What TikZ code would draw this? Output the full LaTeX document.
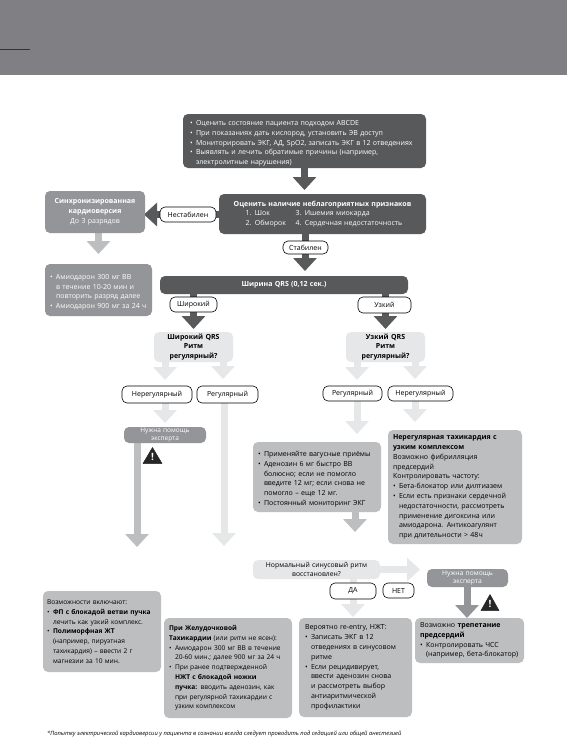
\documentclass[tikz,border=0pt]{standalone}
\usepackage{fontspec}
\setmainfont{Open Sans}
\usetikzlibrary{arrows.meta}
\definecolor{cdark}{HTML}{58595B}
\definecolor{cmid}{HTML}{939598}
\definecolor{clight}{HTML}{BCBEC0}
\definecolor{cpale}{HTML}{E6E7E8}
\definecolor{cband}{HTML}{807F83}
\newcommand{\bl}{\par\hangindent=6pt\hangafter=1\noindent\makebox[6pt][l]{•}}
\newcommand{\nl}{\hfil\break}
\pgfdeclarelayer{bgl}
\pgfsetlayers{bgl,main}
\tikzset{
  x=1pt,y=-1pt,
  bx/.style={anchor=north west,rounded corners=5pt,inner sep=0pt,outer sep=0pt,align=left,
    font=\fontsize{7}{9.8}\selectfont},
  darkbx/.style={bx,fill=cdark,text=white},
  midbx/.style={bx,fill=cmid,text=white},
  lightbx/.style={bx,fill=clight,text=black},
  palebx/.style={bx,fill=cpale,text=black},
  pill/.style={anchor=north west,draw=black,line width=0.6pt,fill=white,rounded corners=5pt,inner sep=0pt,outer sep=0pt,align=center,
    font=\fontsize{7}{9}\selectfont},
  fat/.style={line width=7pt,-{Triangle[length=13pt,width=23pt]},shorten >=#1},
  fat/.default=4pt,
  warnsign/.style={fill=black!85,line join=round,draw=black!85,line width=0.5pt},
}
\begin{document}
\begin{tikzpicture}
\useasboundingbox (0,0) rectangle (567,740);
\begin{pgfonlayer}{bgl}
\fill[white] (0,0) rectangle (567,740);
\end{pgfonlayer}
\fill[cband] (0,0) rectangle (567,75);
\draw[black!80,line width=0.8pt] (0,49.5) -- (30,49.5);

% main boxes
\node[darkbx,minimum width=243pt,minimum height=54pt,text width=229pt] (top) at (183,114) {%
\bl Оценить состояние пациента подходом ABCDE
\bl При показаниях дать кислород, установить ЭВ доступ
\bl Мониторировать ЭКГ, АД, SpO2, записать ЭКГ в 12 отведениях
\bl Выявлять и лечить обратимые причины (например,\nl электролитные нарушения)\par};

\node[darkbx,minimum width=207pt,minimum height=40pt,text width=207pt,align=center,font=\fontsize{7}{9.6}\selectfont] (eval) at (219,194) {%
\textbf{Оценить наличие неблагоприятных признаков}\\
\makebox[50pt][l]{1. Шок}\makebox[104pt][l]{3. Ишемия миокарда}\\
\makebox[50pt][l]{2. Обморок}\makebox[104pt][l]{4. Сердечная недостаточность}};

\node[midbx,minimum width=100pt,minimum height=42pt,text width=100pt,align=center,font=\fontsize{7}{10}\selectfont] (sync) at (45,191) {%
\textbf{Синхронизированная}\\\textbf{кардиоверсия}\\До 3 разрядов};

\node[midbx,minimum width=107pt,minimum height=52pt,text width=97pt] (amio) at (45,264) {%
\bl Амиодарон 300 мг ВВ\nl в течение 10-20 мин и\nl повторить разряд далее
\bl Амиодарон 900 мг за 24 ч\par};

\node[darkbx,minimum width=248pt,minimum height=18pt,text width=248pt,align=center] (qrs) at (160,276) {\textbf{Ширина QRS (0,12 сек.)}};

\node[palebx,minimum width=79pt,minimum height=30pt,text width=79pt,align=center] (wide) at (154,332) {%
\textbf{Широкий QRS}\\\textbf{Ритм}\\\textbf{регулярный?}};
\node[palebx,minimum width=79pt,minimum height=30pt,text width=79pt,align=center] (narrow) at (346,332) {%
\textbf{Узкий QRS}\\\textbf{Ритм}\\\textbf{регулярный?}};

\node[midbx,minimum width=82pt,minimum height=16pt,text width=82pt,align=center,font=\fontsize{6.5}{7.6}\selectfont] (exp1) at (124,427) {Нужна помощь\\эксперта};
\node[midbx,minimum width=81pt,minimum height=18pt,text width=81pt,align=center,font=\fontsize{6.7}{8.3}\selectfont] (exp2) at (427,569) {Нужна помощь\\эксперта};

\node[lightbx,minimum width=128pt,minimum height=70pt,text width=118pt] (reg) at (253,442) {%
\bl Применяйте вагусные приёмы
\bl Аденозин 6 мг быстро ВВ\nl болюсно; если не помогло\nl введите 12 мг; если снова не\nl помогло – еще 12 мг.
\bl Постоянный мониторинг ЭКГ\par};

\node[lightbx,minimum width=134pt,minimum height=114pt,text width=124pt] (irr) at (388,430) {%
\noindent\textbf{Нерегулярная тахикардия с}\nl \textbf{узким комплексом}\par
\noindent Возможно фибрилляция\nl предсердий\par
\noindent Контролировать частоту:
\bl Бета-блокатор или дилтиазем
\bl Если есть признаки сердечной\nl недостаточности, рассмотреть\nl применение дигоксина или\nl амиодарона. Антикоагулянт\nl при длительности > 48ч\par};

\node[palebx,minimum width=127pt,minimum height=19pt,text width=127pt,align=center,font=\fontsize{6.8}{8.7}\selectfont] (rest) at (253,560) {Нормальный синусовый ритм\\восстановлен?};

\node[lightbx,minimum width=118pt,minimum height=81pt,text width=110pt,font=\fontsize{6.6}{9.8}\selectfont] (bA) at (43,591) {%
\noindent Возможности включают:
\bl \textbf{ФП с блокадой ветви пучка}\nl лечить как узкий комплекс.
\bl \textbf{Полиморфная ЖТ}\nl (например, пируэтная\nl тахикардия) – ввести 2 г\nl магнезии за 10 мин.\par};

\node[lightbx,minimum width=128pt,minimum height=100pt,text width=118pt,font=\fontsize{6.6}{9.8}\selectfont] (bB) at (164,618) {%
\noindent\textbf{При Желудочковой}\nl \textbf{Тахикардии} (или ритм не ясен):
\bl Амиодарон 300 мг ВВ в течение\nl 20-60 мин.; далее 900 мг за 24 ч
\bl При ранее подтвержденной\nl \textbf{НЖТ с блокадой ножки}\nl \textbf{пучка:} вводить аденозин, как\nl при регулярной тахикардии с\nl узким комплексом\par};

\node[lightbx,minimum width=113pt,minimum height=99pt,text width=101pt] (bC) at (299,618) {%
\noindent Вероятно re-entry, НЖТ:
\bl Записать ЭКГ в 12\nl отведениях в синусовом\nl ритме
\bl Если рецидивирует,\nl ввести аденозин снова\nl и рассмотреть выбор\nl антиаритмической\nl профилактики\par};

\node[lightbx,minimum width=109pt,minimum height=45pt,text width=99pt] (bD) at (415,618) {%
\noindent Возможно \textbf{трепетание}\nl \textbf{предсердий}
\bl Контролировать ЧСС\nl (например, бета-блокатор)\par};

% pills
\node[pill,minimum width=56pt,minimum height=15pt] (unst) at (160,207) {Нестабилен};
\node[pill,minimum width=45pt,minimum height=13pt] (st) at (283,241) {Стабилен};
\node[pill,minimum width=47pt,minimum height=15pt] (pw) at (170,297) {Широкий};
\node[pill,minimum width=53pt,minimum height=16pt] (pn) at (358,297) {Узкий};
\node[pill,minimum width=70pt,minimum height=17pt] (wirr) at (122,386) {Нерегулярный};
\node[pill,minimum width=61pt,minimum height=17pt] (wreg) at (197,386) {Регулярный};
\node[pill,minimum width=59pt,minimum height=15pt] (nreg) at (323,386) {Регулярный};
\node[pill,minimum width=65pt,minimum height=15pt] (nirr) at (388,386) {Нерегулярный};
\node[pill,minimum width=46pt,minimum height=16pt] (yes) at (330,583) {ДА};
\node[pill,minimum width=31pt,minimum height=15pt] (no) at (383,583) {НЕТ};

\coordinate (wideend) at (137,547);
\coordinate (wregend) at (224,546);

% connectors
\begin{pgfonlayer}{bgl}
\draw[fat,cdark] (top.south) -- (top.south |- eval.north);
\draw[fat=-1pt,cdark] (eval.west |- unst.east) -- (sync.east |- unst.east);
\draw[fat=10pt,clight] (98.5,0 |- sync.south) -- (98.5,0 |- amio.north);
\draw[fat=5pt,cdark] (305,0 |- eval.south) -- (305,0 |- qrs.north);
\draw[fat=3pt,cdark] (wide.north |- qrs.south) -- (wide.north);
\draw[fat=3pt,cdark] (narrow.north |- qrs.south) -- (narrow.north);
\draw[fat=6pt,cpale] (165,0 |- wide.south) -- (165,0 |- wirr.north);
\draw[fat=7pt,cpale] (223,0 |- wide.south) -- (223,0 |- wreg.north);
\draw[fat=6pt,cpale] (357,0 |- narrow.south) -- (357,0 |- nreg.north);
\draw[fat=7pt,cpale] (415,0 |- narrow.south) -- (415,0 |- nirr.north);
\draw[fat=4pt,cpale] (165,0 |- wirr.south) -- (165,0 |- exp1.north);
\draw[fat=0pt,clight] (137,0 |- exp1.south) -- (wideend);
\draw[fat=0pt,cpale] (224,0 |- wreg.south) -- (wregend);
\draw[fat=8pt,cpale] (357,0 |- nreg.south) -- (357,0 |- reg.north);
\draw[fat=8pt,cpale] (415,0 |- nirr.south) -- (415,0 |- irr.north);
\draw[fat=28pt,clight] (355,0 |- reg.south) -- (355,0 |- rest.north);
\draw[fat=7pt,cpale] (rest.east) -- (exp2.west |- rest.east);
\draw[fat=1pt,cpale] (353,0 |- rest.south) -- (353,0 |- bC.north);
\draw[fat=0pt,cmid] (467,0 |- exp2.south) -- (467,0 |- bD.north);
\end{pgfonlayer}

% warning signs
\fill[warnsign] (152.5,447.5) -- (162,463.5) -- (143,463.5) -- cycle;
\node[text=white,font=\bfseries\fontsize{10}{10}\selectfont,inner sep=0pt] (w1) at (152.5,457) {!};
\fill[warnsign] (490,594.5) -- (499,610.5) -- (481,610.5) -- cycle;
\node[text=white,font=\bfseries\fontsize{10}{10}\selectfont,inner sep=0pt] (w2) at (490,604) {!};

% footnote
\node[anchor=west,inner sep=0pt,font=\itshape\fontsize{5.8}{7}\selectfont] (foot) at (47,734) {*Попытку электрической кардиоверсии у пациента в сознании всегда следует проводить под седацией или общей анестезией};
\end{tikzpicture}
\end{document}
